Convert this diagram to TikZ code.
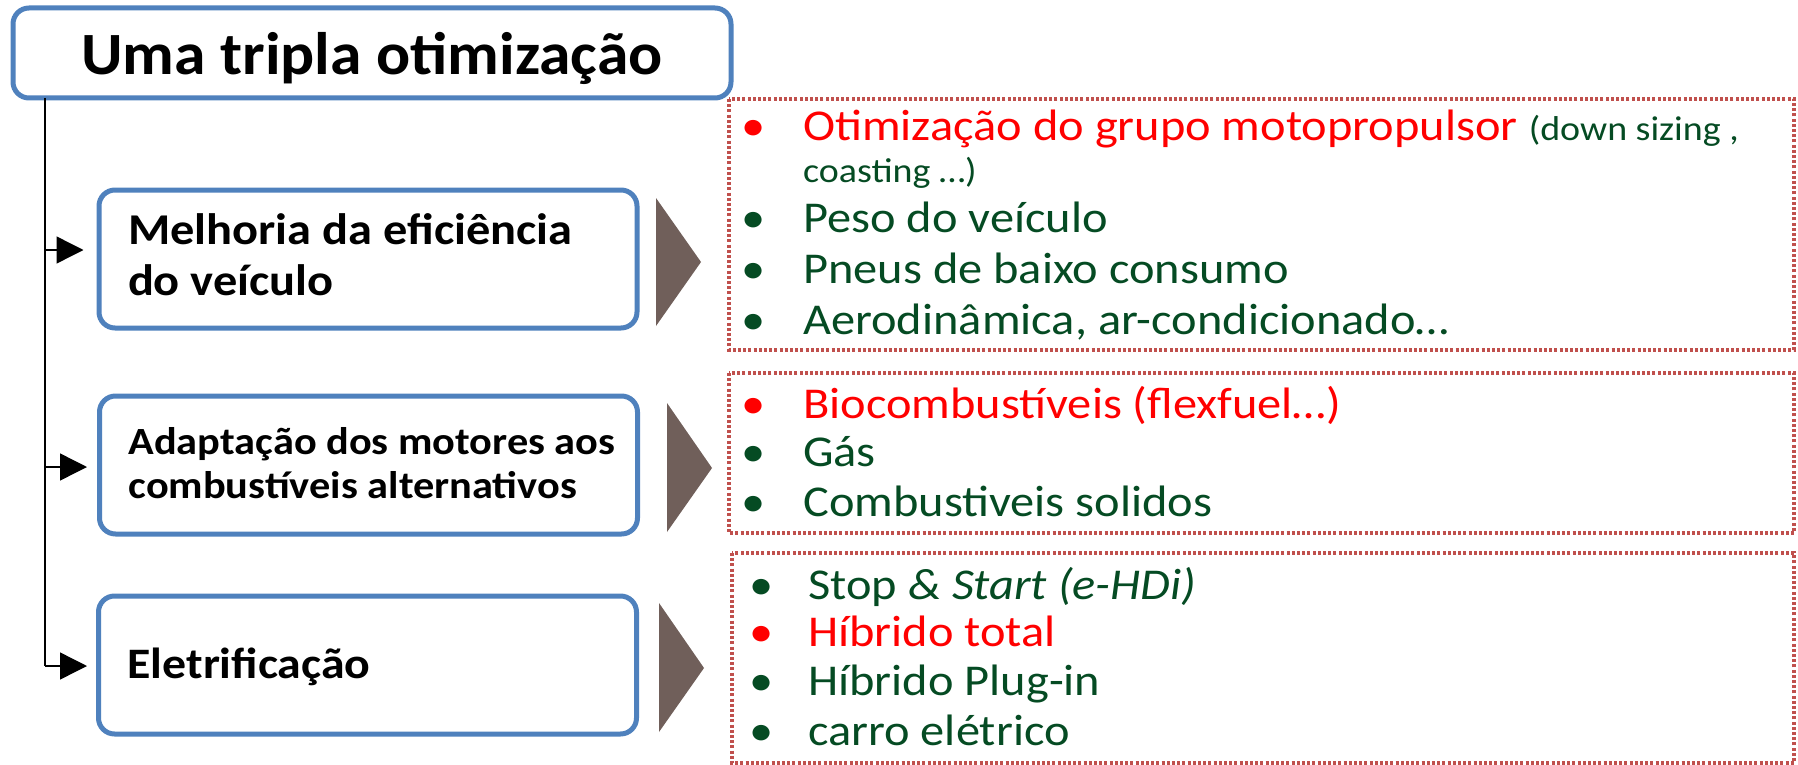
\documentclass[tikz,border=0pt]{standalone}
\usepackage{fontspec}
\setmainfont{Carlito}[FakeStretch=1.1]
\newfontfamily\titlefont{Carlito}[FakeStretch=1.06]
\usetikzlibrary{arrows.meta}
\definecolor{boxblue}{RGB}{79,129,189}
\definecolor{dotred}{RGB}{192,80,77}
\definecolor{tribrown}{RGB}{112,95,90}
\definecolor{dkgreen}{RGB}{5,75,35}
\definecolor{brightred}{RGB}{255,0,0}
\newcommand{\bul}[2]{\makebox[#2][l]{\textcolor{#1}{\textbullet}}}
\newcommand{\boxtext}[1]{\parbox[b]{520pt}{\raggedright\leftskip=20pt #1}}
\tikzset{
  bluebox/.style={draw=boxblue, line width=5pt, rounded corners=16pt, fill=white, inner sep=0pt},
  titlebox/.style={bluebox, minimum width=718pt, minimum height=90pt, font=\titlefont\bfseries\fontsize{60}{70}\selectfont, text height=44pt, text depth=0pt},
  catbox/.style={bluebox, minimum width=538pt, minimum height=138pt, text depth=0pt},
  trunk/.style={line width=1.4pt, black},
  arr/.style={line width=1.4pt, black, -{Triangle[length=27pt,width=27pt]}},
  tri/.style={fill=tribrown},
  dotbox/.style={draw=dotred, line width=3.2pt, dash pattern=on 3pt off 2.2pt},
  listtxt/.style={anchor=base west, inner sep=0pt, text=dkgreen, font=\fontsize{44}{50}\selectfont},
  smalltxt/.style={listtxt, font=\fontsize{34.5}{40}\selectfont}
}
\begin{document}
\begin{tikzpicture}[x=1pt,y=-1pt]
\useasboundingbox (0,0) rectangle (1798,765);
% title
\node[titlebox] (title) at (372,53) {Uma tripla otimização};
% category boxes
\node[catbox, text height=72pt, font=\bfseries\fontsize{44}{51}\selectfont] (b1) at (368,259) {\boxtext{Melhoria da eficiência\\do veículo}};
\node[catbox, text height=66pt, font=\bfseries\fontsize{38.5}{43.5}\selectfont] (b2) at (368.5,465) {\boxtext{Adaptação dos motores aos\\combustíveis alternativos}};
\node[catbox, text height=26pt, font=\bfseries\fontsize{43.5}{50}\selectfont] (b3) at (367.5,665) {\boxtext{Eletrificação}};
% trunk and arrows
\coordinate (t0) at (45,98);
\coordinate (t1) at (45,250);
\coordinate (t2) at (45,467);
\coordinate (t3) at (45,666);
\draw[trunk] (t0) -- (t3);
\draw[arr, shorten >=13pt] (t1) -- (t1 -| b1.west);
\draw[arr, shorten >=10pt] (t2) -- (t2 -| b2.west);
\draw[arr, shorten >=9pt] (t3) -- (t3 -| b3.west);
% triangles
\fill[tri] (656,198) -- (656,326) -- (701,262) -- cycle;
\fill[tri] (667,403) -- (667,532) -- (712,468) -- cycle;
\fill[tri] (659,603) -- (659,732) -- (704,668) -- cycle;
% dotted boxes
\draw[dotbox] (729,99) rectangle (1794,350);
\draw[dotbox] (729,373) rectangle (1794,533);
\draw[dotbox] (732,553) rectangle (1794,763);
% list A
\node[listtxt] (a1) at (741,140) {\bul{brightred}{62pt}\textcolor{brightred}{Otimização do grupo motopropulsor} {\fontsize{34.5}{40}\selectfont(down sizing ,}};
\node[smalltxt] (a2) at (803,182) {coasting …)};
\node[listtxt] (a3) at (741,232) {\bul{dkgreen}{62pt}Peso do veículo};
\node[listtxt] (a4) at (741,283) {\bul{dkgreen}{62pt}Pneus de baixo consumo};
\node[listtxt] (a5) at (741,334) {\bul{dkgreen}{62pt}Aerodinâmica, ar-condicionado…};
% list B
\node[listtxt] (c1) at (741,418) {\bul{brightred}{62pt}\textcolor{brightred}{Biocombustíveis (flexfuel…)}};
\node[listtxt] (c2) at (741,466.5) {\bul{dkgreen}{62pt}Gás};
\node[listtxt] (c3) at (741,516.5) {\bul{dkgreen}{62pt}Combustiveis solidos};
% list C
\node[listtxt] (e1) at (749,599) {\bul{dkgreen}{59pt}Stop \textit{\&~Start (e-HDi)}};
\node[listtxt] (e2) at (749,646) {\bul{brightred}{59pt}\textcolor{brightred}{Híbrido total}};
\node[listtxt] (e3) at (749,695) {\bul{dkgreen}{59pt}Híbrido Plug-in};
\node[listtxt] (e4) at (749,745) {\bul{dkgreen}{59pt}carro elétrico};
\end{tikzpicture}
\end{document}
